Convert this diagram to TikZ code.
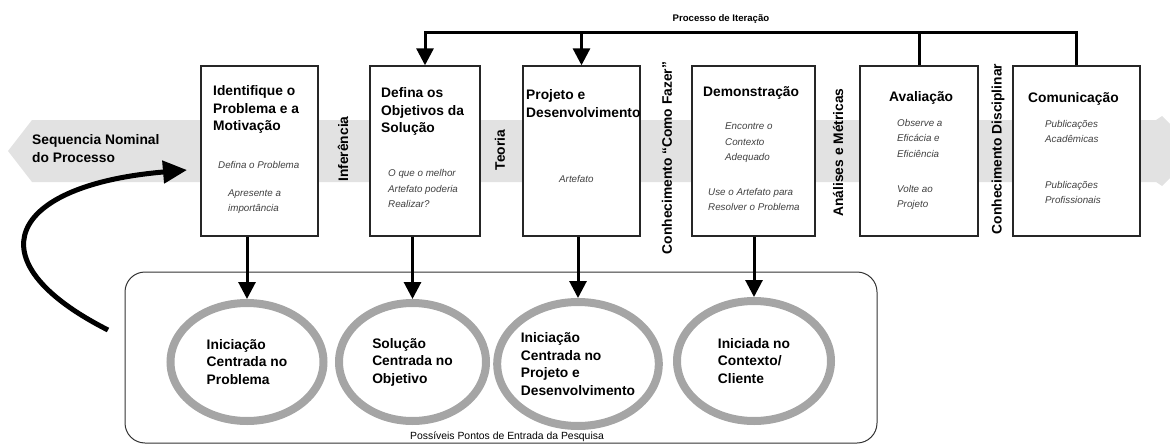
\documentclass[tikz,border=0pt]{standalone}
\usepackage{fontspec}
\setmainfont{Liberation Sans}
\usetikzlibrary{arrows.meta,shapes.geometric}
\definecolor{bandgray}{HTML}{E2E2E2}
\definecolor{ringgray}{HTML}{A5A5A5}
\definecolor{subgray}{HTML}{404040}

\begin{document}
\begin{tikzpicture}[x=1pt,y=-1pt,
  stage/.style={draw=black!85, fill=white, line width=1.4pt, minimum height=170pt, inner sep=0pt},
  head/.style={font=\fontsize{13.8}{17.5}\selectfont\bfseries, align=left, inner sep=0pt, anchor=west},
  note/.style={font=\fontsize{9.8}{15.5}\selectfont\itshape, text=subgray, align=left, inner sep=0pt, anchor=west},
  side/.style={font=\fontsize{13.8}{16}\selectfont\bfseries, rotate=90, inner sep=0pt},
  entry/.style={ellipse, draw=ringgray, line width=8pt, inner sep=0pt, align=left,
    font=\fontsize{13.8}{17.5}\selectfont\bfseries},
  flow/.style={line width=3pt, -{Triangle[length=17pt,width=17pt]}}
]
\useasboundingbox (0,0) rectangle (1170,444);

%Nominal sequence band
\fill[bandgray] (8,151) -- (32,120) -- (1156,120) -- (1162,116) -- (1170,124)
  -- (1170,178) -- (1162,186) -- (1156,182) -- (32,182) -- cycle;
\node[head] (seq) at (32,148.5) {Sequencia Nominal\\do Processo};

%Stages
\node[stage, minimum width=117pt] (b1) at (259.5,151) {};
\node[stage, minimum width=110pt] (b2) at (425,151) {};
\node[stage, minimum width=117pt] (b3) at (581.5,151) {};
\node[stage, minimum width=123pt] (b4) at (753.5,151) {};
\node[stage, minimum width=118pt] (b5) at (919,151) {};
\node[stage, minimum width=127pt] (b6) at (1076.5,151) {};

\node[head] (b1t) at (213,109.5) {Identifique o\\Problema e a\\Motivação};
\node[note] (b1n1) at (218,165) {Defina o Problema};
\node[note] (b1n2) at (228,201.5) {Apresente a\\importância};

\node[head] (b2t) at (381,111.5) {Defina os\\Objetivos da\\Solução};
\node[note] (b2n1) at (388,188.5) {O que o melhor\\Artefato poderia\\Realizar?};

\node[head] (b3t) at (526,103.5) {Projeto e\\Desenvolvimento};
\node[note] (b3n1) at (559,179) {Artefato};

\node[head] (b4t) at (703,93) {Demonstração};
\node[note] (b4n1) at (725,143) {Encontre o\\Contexto\\Adequado};
\node[note] (b4n2) at (708,199.5) {Use o Artefato para\\Resolver o Problema};

\node[head] (b5t) at (889,98) {Avaliação};
\node[note] (b5n1) at (897,138) {Observe a\\Eficácia e\\Eficiência};
\node[note] (b5n2) at (897,197.5) {Volte ao\\Projeto};

\node[head] (b6t) at (1028,99) {Comunicação};
\node[note] (b6n1) at (1045,131.5) {Publicações\\Acadêmicas};
\node[note] (b6n2) at (1045,192.5) {Publicações\\Profissionais};

%Knowledge between stages
\node[side] (inf) at (343,149) {Inferência};
\node[side] (teo) at (500,150) {Teoria};
\node[side] (como) at (667,158) {Conhecimento ``Como Fazer''};
\node[side] (anal) at (838,152.5) {Análises e Métricas};
\node[side] (disc) at (998,149) {Conhecimento Disciplinar};

%Iteration
\coordinate (itop) at (721,33);
\node[font=\fontsize{9.6}{11}\selectfont\bfseries] (itlbl) at (721,19) {Processo de Iteração};
\draw[flow] (b6.north) -- (b6.north |- itop) -- (b2.north |- itop) -- (b2.north);
\draw[flow] (b3.north |- itop) -- (b3.north);
\draw[line width=3pt] (b5.north) -- (b5.north |- itop);

%Entry points
\node[draw=black!80, line width=1pt, rounded corners=20pt, minimum width=752pt,
  minimum height=171pt] (entries) at (501,357.5) {};
\node[font=\fontsize{10.4}{12}\selectfont] (entlbl) at (507,437) {Possíveis Pontos de Entrada da Pesquisa};

\node[entry, minimum width=153pt, minimum height=118pt] (e1) at (247,362) {Iniciação\\Centrada no\\Problema};
\node[entry, minimum width=147pt, minimum height=118pt] (e2) at (412.5,362) {Solução\\Centrada no\\Objetivo};
\node[entry, minimum width=132pt, minimum height=124pt] (e3) at (578,364) {Iniciação\\Centrada no\\Projeto e\\Desenvolvimento};
\node[entry, minimum width=154pt, minimum height=120pt] (e4) at (754,361) {Iniciada no\\Contexto/\\Cliente};

\draw[flow] (e1 |- b1.south) -- (e1.north);
\draw[flow] (e2 |- b2.south) -- (e2.north);
\draw[flow] (e3 |- b3.south) -- (e3.north);
\draw[flow] (e4 |- b4.south) -- (e4.north);

%Loop back into the process
\coordinate (loopstart) at (108,330);
\coordinate (loopend) at (187,170);
\draw[line width=5pt, -{Triangle[length=24pt,width=22pt]}]
  (loopstart) .. controls (-30,260) and (10,185) .. (loopend);
\end{tikzpicture}
\end{document}
